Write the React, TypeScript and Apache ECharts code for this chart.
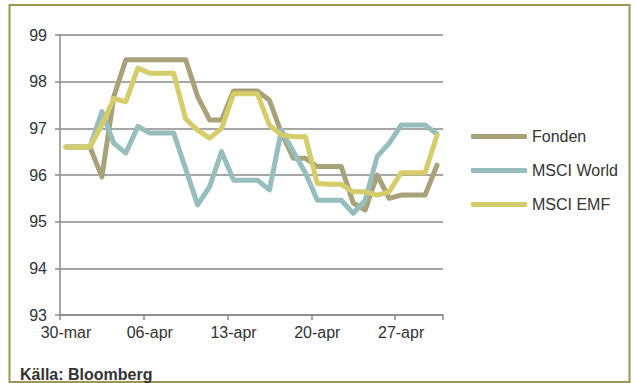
import React, { useEffect, useRef } from "react";
import * as echarts from "echarts";

const dates = [
  "30-mar", "31-mar", "01-apr", "02-apr", "03-apr", "04-apr", "05-apr", "06-apr",
  "07-apr", "08-apr", "09-apr", "10-apr", "11-apr", "12-apr", "13-apr", "14-apr",
  "15-apr", "16-apr", "17-apr", "18-apr", "19-apr", "20-apr", "21-apr", "22-apr",
  "23-apr", "24-apr", "25-apr", "26-apr", "27-apr", "28-apr", "29-apr", "30-apr",
];

const fonden = [
  96.6, 96.6, 96.6, 95.96, 97.68, 98.47, 98.47, 98.47,
  98.47, 98.47, 98.47, 97.68, 97.18, 97.18, 97.8, 97.8,
  97.8, 97.6, 96.9, 96.36, 96.36, 96.18, 96.18, 96.18,
  95.4, 95.25, 96.0, 95.5, 95.57, 95.57, 95.57, 96.21,
];

const msciWorld = [
  96.6, 96.6, 96.6, 97.36, 96.68, 96.47, 97.04, 96.9,
  96.9, 96.9, 96.13, 95.36, 95.75, 96.5, 95.89, 95.89,
  95.89, 95.68, 96.96, 96.5, 96.05, 95.46, 95.46, 95.46,
  95.18, 95.46, 96.4, 96.68, 97.07, 97.07, 97.07, 96.88,
];

const msciEmf = [
  96.6, 96.6, 96.6, 97.07, 97.64, 97.57, 98.29, 98.18,
  98.18, 98.18, 97.2, 96.96, 96.79, 97.0, 97.74, 97.74,
  97.74, 97.07, 96.86, 96.82, 96.82, 95.82, 95.8, 95.8,
  95.64, 95.64, 95.57, 95.64, 96.05, 96.05, 96.05, 96.85,
];

const seriesNames = ["Fonden", "MSCI World", "MSCI EMF"];
const seriesColors = ["#A8A27A", "#97BEBC", "#D5CD6A"];
const sourceText = "Källa: Bloomberg";

export default function App() {
  const ref = useRef<HTMLDivElement>(null);

  useEffect(() => {
    if (!ref.current) return;
    const chart = echarts.init(ref.current, undefined, { renderer: "svg" });
    const font = "'Liberation Sans', Arial, sans-serif";
    const textColor = "#333333";
    const dataSets = [fonden, msciWorld, msciEmf];
    chart.setOption({
      animation: false,
      backgroundColor: "#ffffff",
      grid: { left: 60, top: 35, right: 192, bottom: 68, containLabel: false },
      legend: {
        orient: "vertical",
        left: 466,
        top: 122,
        itemWidth: 56,
        itemHeight: 5,
        itemGap: 15,
        icon: "roundRect",
        textStyle: { fontFamily: font, fontSize: 16, color: textColor, lineHeight: 19 },
        data: seriesNames,
      },
      xAxis: {
        type: "category",
        data: dates,
        boundaryGap: true,
        axisLine: { lineStyle: { color: "#8a8a8a", width: 1.5 } },
        axisTick: { show: true, interval: 6, length: 5, lineStyle: { color: "#8a8a8a", width: 1.5 } },
        axisLabel: { interval: 6, fontFamily: font, fontSize: 16, color: textColor, margin: 9 },
        splitLine: { show: false },
      },
      yAxis: {
        type: "value",
        min: 93,
        max: 99,
        interval: 1,
        axisLine: { show: true, lineStyle: { color: "#8a8a8a", width: 1.5 } },
        axisTick: { show: true, length: 5, lineStyle: { color: "#8a8a8a", width: 1.5 } },
        axisLabel: { fontFamily: font, fontSize: 16, color: textColor, margin: 13 },
        splitLine: { lineStyle: { color: "#8a8a8a", width: 1.5 } },
      },
      series: seriesNames.map((name, i) => ({
        name,
        type: "line",
        data: dataSets[i],
        showSymbol: false,
        symbol: "none",
        color: seriesColors[i],
        lineStyle: { color: seriesColors[i], width: 5, join: "round", cap: "round" },
        itemStyle: { color: seriesColors[i] },
      })),
      graphic: [
        {
          type: "rect",
          shape: { x: 9.5, y: 5, width: 620, height: 377 },
          style: { fill: "none", stroke: "#9E9650", lineWidth: 2 },
          silent: true,
        },
        {
          type: "text",
          left: 20,
          top: 366,
          style: {
            text: sourceText,
            fontFamily: font,
            fontSize: 16,
            fontWeight: "bold",
            fill: "#333333",
          },
        },
      ],
    });
    return () => chart.dispose();
  }, []);

  return (
    <div
      ref={ref}
      style={{ position: "fixed", left: 0, top: 0, width: 635, height: 383 }}
    />
  );
}
